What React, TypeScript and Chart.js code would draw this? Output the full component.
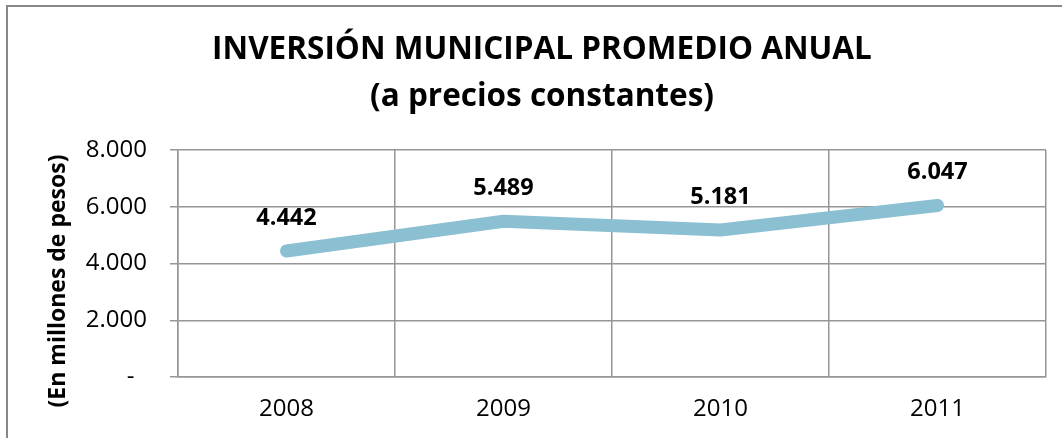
import React, { useEffect, useRef } from "react";
import { Chart, registerables } from "chart.js";

Chart.register(...registerables);

const years = ["2008", "2009", "2010", "2011"];
const inversion = [4442, 5489, 5181, 6047];
const titleLines = ["INVERSIÓN MUNICIPAL PROMEDIO ANUAL", "(a precios constantes)"];
const yAxisTitle = "(En millones de pesos)";

const FONT = "'Open Sans', 'Noto Sans', sans-serif";

const fmt = (v: number) =>
  Math.round(v)
    .toString()
    .replace(/\B(?=(\d{3})+(?!\d))/g, ".");

const labelsPlugin = {
  id: "valueLabels",
  afterDatasetsDraw(chart: any) {
    const ctx = chart.ctx;
    const meta = chart.getDatasetMeta(0);
    ctx.save();
    ctx.font = `bold 23.5px ${FONT}`;
    ctx.fillStyle = "#000";
    ctx.textAlign = "center";
    ctx.textBaseline = "middle";
    meta.data.forEach((pt: any, i: number) => {
      ctx.fillText(fmt(inversion[i]), pt.x, pt.y - 33);
    });
    ctx.restore();
  },
};

const yTitlePlugin = {
  id: "yTitle",
  afterDraw(chart: any) {
    const ctx = chart.ctx;
    ctx.save();
    ctx.translate(58, 281);
    ctx.rotate(-Math.PI / 2);
    ctx.font = `bold 23px ${FONT}`;
    ctx.fillStyle = "#000";
    ctx.textAlign = "center";
    ctx.textBaseline = "middle";
    ctx.fillText(yAxisTitle, 0, 0);
    ctx.restore();
  },
};

export default function App() {
  const ref = useRef<HTMLCanvasElement | null>(null);

  useEffect(() => {
    document.body.style.margin = "0";
    if (!ref.current) return;
    const chart = new Chart(ref.current, {
      type: "line",
      data: {
        labels: years,
        datasets: [
          {
            data: inversion,
            borderColor: "#8BBFD2",
            borderWidth: 13,
            borderCapStyle: "round",
            borderJoinStyle: "round",
            pointRadius: 0,
            tension: 0,
            fill: false,
          },
        ],
      },
      options: {
        responsive: false,
        animation: false,
        layout: { padding: { left: 38, right: 16, top: 0, bottom: 0 } },
        plugins: {
          legend: { display: false },
          tooltip: { enabled: false },
          title: {
            display: true,
            text: titleLines,
            color: "#000",
            font: { family: FONT, size: 31.5, weight: "bold", lineHeight: 1.5 },
            padding: { top: 26, bottom: 29.5 },
          },
        },
        scales: {
          x: {
            offset: true,
            grid: { offset: true, color: "#969696", lineWidth: 1.5, drawTicks: false },
            border: { color: "#969696", width: 1.5 },
            ticks: { color: "#000", font: { family: FONT, size: 24 }, padding: 18 },
            afterFit: (s: any) => {
              s.height = 61;
            },
          },
          y: {
            min: 0,
            max: 8000,
            grid: { color: "#969696", lineWidth: 1.5, drawTicks: true, tickLength: 8 },
            border: { color: "#969696", width: 1.5 },
            ticks: {
              stepSize: 2000,
              color: "#000",
              font: { family: FONT, size: 24 },
              padding: 23,
              callback: (v: any) => (Number(v) === 0 ? "-  " : fmt(Number(v))),
            },
            afterFit: (s: any) => {
              s.width = 140;
            },
          },
        },
      },
      plugins: [labelsPlugin, yTitlePlugin],
    });
    return () => chart.destroy();
  }, []);

  return (
    <div style={{ position: "relative", width: 1062, height: 438, overflow: "hidden", background: "#fff" }}>
      <div
        style={{
          position: "absolute",
          left: 6,
          top: 5,
          width: 1200,
          height: 600,
          borderTop: "2px solid #878787",
          borderLeft: "2px solid #878787",
        }}
      />
      <canvas ref={ref} width={1062} height={438} style={{ position: "absolute", left: 0, top: 0 }} />
    </div>
  );
}
